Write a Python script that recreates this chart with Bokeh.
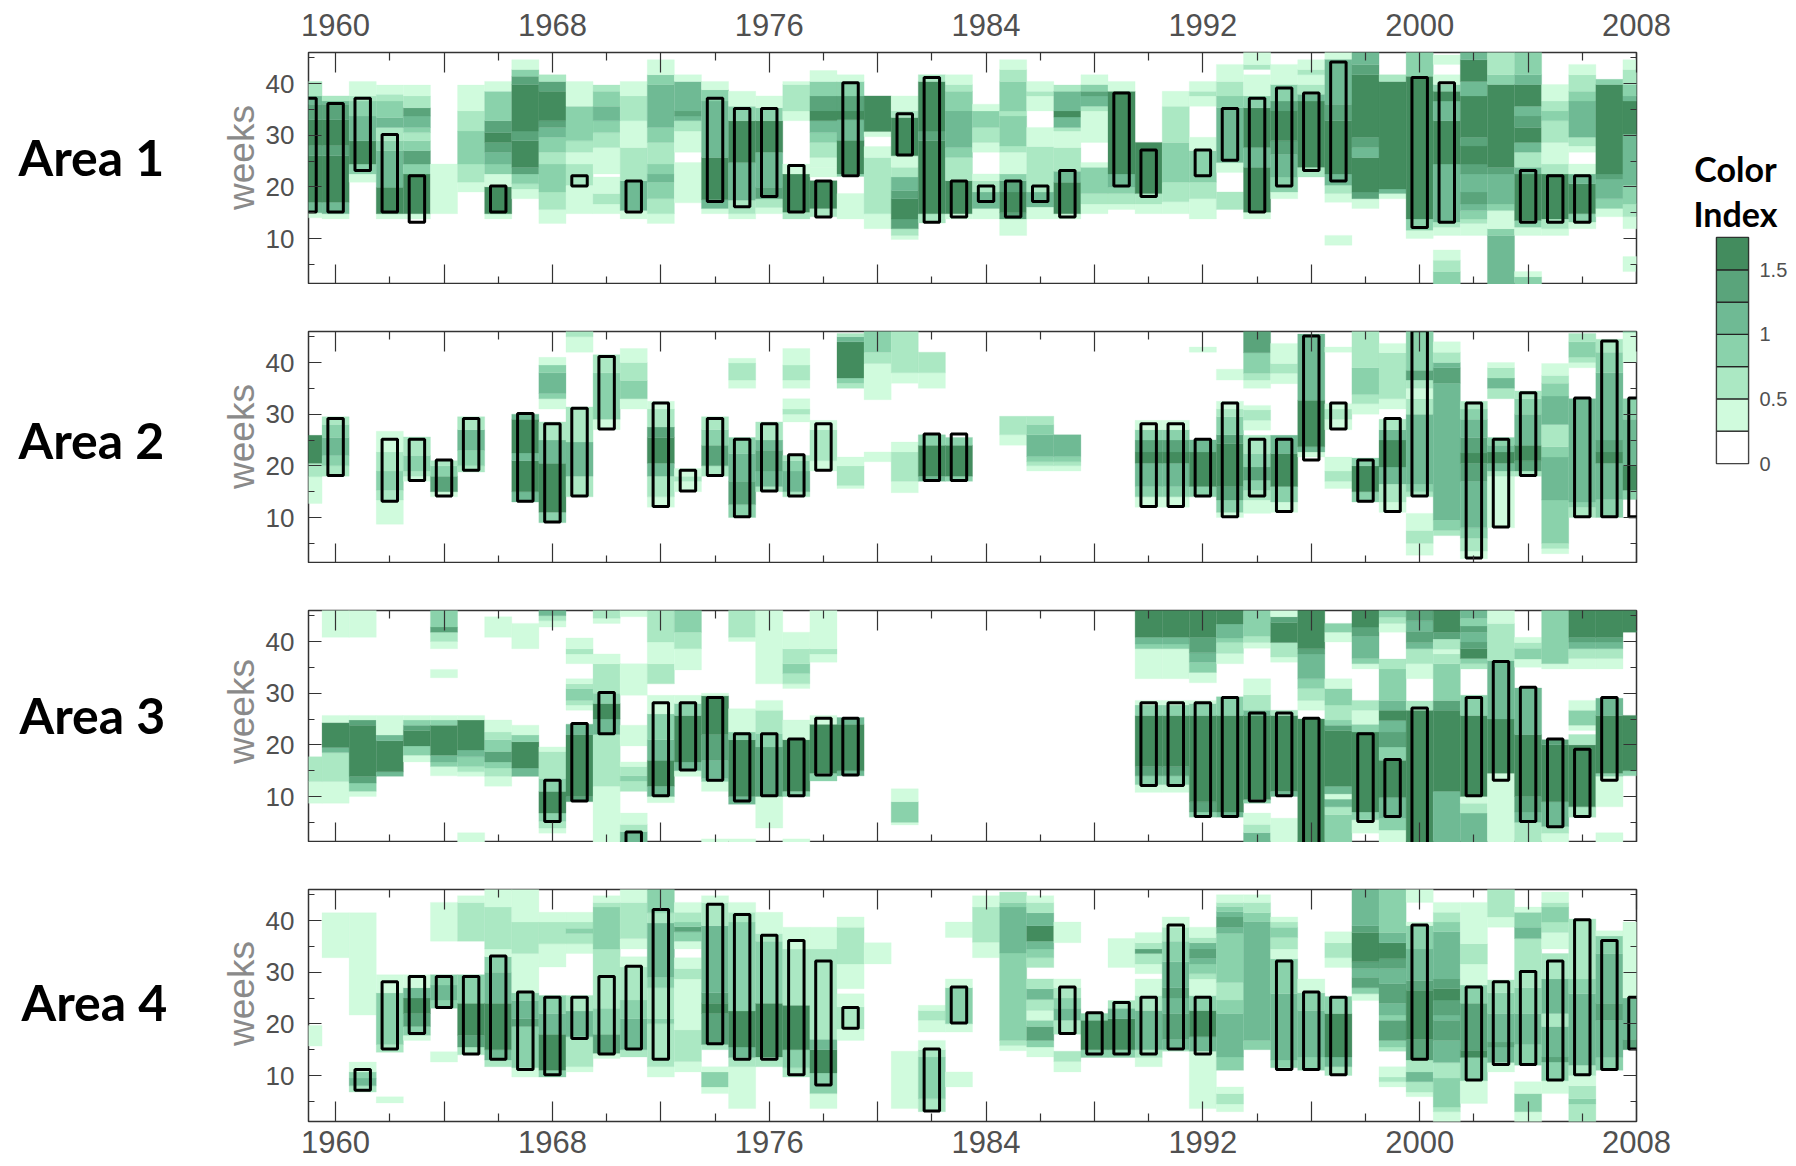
from math import pi
from bokeh.core.properties import value
from bokeh.embed import file_html
from bokeh.resources import INLINE
from bokeh.plotting import figure
from bokeh.layouts import row, column
from bokeh.models import ColumnDataSource, FixedTicker, LinearAxis

years = list(range(1959, 2009))
level_colors = ["#FFFFFF", "#D0FBDD", "#ABE8C3", "#8AD2AB", "#6FBA94", "#5AA47B", "#438C5E"]
legend_levels = [0, 0.25, 0.5, 0.75, 1.0, 1.25, 1.5]
legend_ticks = [0, 0.5, 1, 1.5]
area_names = ["Area 1", "Area 2", "Area 3", "Area 4"]
legend_title = ["Color", "Index"]

# Each string: "week:level" runs read upward through the weeks of one year, 0 = blank
area1_runs = [
 "14:1 15:4 17:6 26:5 28:6 33:5 36:4 37.6:2 40.4:0",
 "13.8:1 14.8:4 17:6 26:5 28:6 33:5 36:4 36.6:2 37.6:0",
 "20.9:1 22.5:3 24.4:6 28.9:4 33.7:3 36.6:2 37.6:1 40.4:0",
 "13.8:1 14.8:6 19.9:4 27:3 28.9:2 31.5:4 33.4:3 36.6:2 37.9:1 39.7:0",
 "13.8:1 14.8:6 22.5:3 24.4:5 27:3 28.9:2 30.5:3 31.5:4 33.7:5 35.3:2 37.6:1 39.7:0",
 "14.8:1 24.4:0",
 "19:1 20.9:2 24.4:3 30.8:2 34.7:1 39.7:0",
 "13.8:1 14.8:6 20:1 22.5:3 24.4:4 26.7:5 28.6:6 30.5:5 32.8:3 38.5:1 40.4:0",
 "17.7:1 19.6:2 20.6:3 22.5:5 23.8:6 28.9:5 30.8:6 39.8:5 41.4:3 42.7:1 44.6:0",
 "12.9:1 15.6:2 19:3 24.4:2 26.7:3 29.6:4 31.5:5 32.8:6 38.5:5 40.4:2 41.7:0",
 "14.8:1 20.3:2 24.4:1 26.7:2 28.9:3 35.6:1 40.4:0",
 "14.8:1 16.7:2 18.7:1 21.9:0 22.5:1 27.6:2 30.5:3 32.8:4 35.6:3 38.5:2 39.7:0",
 "13.8:1 15.4:4 21.2:2 27.6:1 32.8:2 37.6:1 40.4:0",
 "12.9:1 14.8:2 17.7:3 20.9:4 22.5:3 24.4:2 28.6:3 31.5:4 39.8:3 41.7:1 44.6:0",
 "16.9:1 24.7:0 26.7:1 30.8:2 32.8:4 33.7:5 34.7:4 40.4:1 41.7:0",
 "14.8:1 15.8:4 17.5:6 25.7:4 36.6:3 38.8:1 40.4:0",
 "13.8:1 14.8:2 17.4:4 24.7:6 32.8:3 35.6:1 38.5:0",
 "14.8:1 16:2 17.7:5 19.9:4 26.7:6 32.8:3 35.3:1 37.6:0",
 "13.8:2 15.1:6 22.5:1 24.4:0 32.8:1 34.7:2 39.8:1 40.4:0",
 "14.2:2 15.8:6 21.2:0 21.9:1 23.8:1 25.7:2 28.6:3 30.5:4 32.8:6 34.7:5 37.6:3 40.4:1 42.5:0",
 "13.8:1 18.7:0 22:3 22.5:6 29:4 33:6 34.7:5 37.6:3 40.4:1 41.7:0",
 "11.9:1 14.8:2 25.7:1 27.8:0 29.7:1 30.7:6 37.6:0",
 "9.8:1 10.6:2 11.9:5 13.8:6 17.7:5 19.3:4 21.9:2 23.8:1 26:6 33.4:2 34.7:1 37.6:0",
 "13:2 14.8:6 28.9:5 30.8:6 40.4:2 41.7:0",
 "13.8:1 14.8:6 21.2:2 25.7:3 27.6:4 34.7:3 38.5:2 39.8:1 41.7:0",
 "13.8:1 15.8:4 19:2 21.2:1 22.5:0 26.7:1 28.6:2 31.5:3 34.7:1 36:0",
 "10.6:1 13.8:5 15:6 19:5 21.2:3 22.5:1 26.7:2 27.9:3 33.7:2 34.7:3 40.4:2 42.7:1 44.6:0",
 "13.8:1 16.1:4 19:2 27.8:1 31.5:0 34.7:1 37.6:2 38.5:1 40.4:0",
 "13.8:1 14.8:6 20.9:4 23:2 27.6:1 30.8:2 31.5:4 33.5:6 34.7:4 38.5:2 39.7:0",
 "14.8:1 16.7:2 18.7:3 23.8:1 24.7:0 28.6:1 34.7:2 35.6:4 37.6:5 38.5:3 39.8:1 41.7:0",
 "15.6:1 16.7:2 18.7:3 19.9:4 22.5:6 38.5:1 40.4:0",
 "14.8:1 16.7:2 18.7:6 28.6:0",
 "14.8:1 17.1:2 20.9:3 28.6:2 35.6:1 38.5:0",
 "13.8:1 17.7:2 20.9:3 27:1 29.6:0 35.6:1 37.6:2 38.5:1 40.4:0",
 "15.6:2 19:0 22.8:1 24.7:4 35.3:3 37.6:2 40.4:1 43.7:0",
 "13.8:1 15.1:6 23.8:4 27.6:6 35.3:3 37.6:1 41.7:0 42.7:2 43.7:1",
 "17.7:1 19:3 21.9:4 26.3:5 28.9:6 34.7:5 36.6:3 39.8:1 43.7:0",
 "21.9:2 23.8:6 36.6:4 37.9:2 39.8:1 41.7:2 42.7:1 44.6:0",
 "8.7:1 10.6:0 17:1 18.7:2 20.3:4 22.5:6 32.8:5 36:4 44.7:1",
 "15.8:1 17.7:5 19:6 25.7:4 27.6:5 29.6:6 41.7:5 43.7:4",
 "17.7:1 18.7:4 19.6:6 40.4:2 41.7:0",
 "10:1 11.6:3 13.8:6 41.4:3",
 "1:3 3.6:2 5.8:1 7.8:0 10.6:1 12.2:2 13.2:4 24.4:6 32.8:4 36.6:6 38.5:3 39.8:1 41.7:0 43.7:1 45.5:0",
 "10.6:1 12.9:2 13.8:3 15.4:4 16.7:5 19:4 22.5:5 24.4:6 27.9:5 29.6:6 37.6:4 40.4:6 44.6:4",
 "1:4 10.6:3 11.9:1 15.4:3 16.7:4 22.5:5 23.8:6 39.8:3 41.7:2",
 "1:3 2.6:1 3.6:0 10.6:1 12.2:3 13.5:6 22.5:4 23.8:2 26.7:4 28.6:6 31.5:5 33.7:4 35.6:6 39.8:4 41.7:3",
 "10.6:1 11.9:2 13.8:6 22.5:2 24.4:1 28.6:2 32.8:3 34.7:2 36.6:1 39.8:0",
 "11.9:1 13.2:3 14.8:6 20.6:4 22.5:1 24.4:0 26.7:1 27.9:2 29.6:4 36.6:3 38.5:2 41.7:1 43.7:0",
 "14.2:1 15.8:3 17.7:4 21.5:5 22.5:6 39.8:3 40.8:0",
 "3.6:1 6.5:0 11.9:1 14.2:2 16.7:3 20.3:4 30.2:6 36.6:4 37.6:3 39.8:2 42.7:1 44.6:0",
]
area2_runs = [
 "12.7:1 17.9:2 20.5:6 25.9:0",
 "18:2 20:3 22:4 25.5:3 28:2 29.5:0",
 "",
 "8.7:1 13.4:2 15.3:3 19:2 22.7:1 26.7:0",
 "17:1 18:2 19:3 22:2 25.6:0",
 "14:1 15:5 18:3 20:2 21:0",
 "18.8:2 20:3 23:4 27:2 29.5:0",
 "",
 "13:4 15:6 21:4 22.5:6 29:4 30:0",
 "9:3 11:6 20.5:4 25:2 28.5:0 31:1 33:3 34:4 38:3 39.5:1 41:0",
 "14:2 18:4 24.6:2 31.4:0 42:1 45:2",
 "27:1 29:3 38:2 41.5:0",
 "31:1 33:3 36.5:2 40:1 42.7:0",
 "12:1 14:2 18:4 20.5:6 25.5:5 27.5:2 31:1 32.5:0",
 "15:1 17:2 18:1 19.5:0",
 "18:2 20:5 24:3 27:2 29.5:0",
 "10:3 12.5:5 17:4 22.4:3 25.5:0 35:1 36.6:2 39.9:1 40.8:0",
 "15:2 16:4 19:5 23:4 25:2 28.5:0",
 "14:2 15:4 19:3 21:2 22:0 28.5:1 30:2 31:1 33:0 35:1 36.6:2 39.5:1 42.7:0",
 "19:1 21:2 27:1 28.8:0",
 "15.6:1 16.2:2 20:1 21.7:0 35:2 36:3 37:6 44:4 45:2 45.6:0",
 "20.8:1 22.7:0 32.8:1 39.8:2 42:3",
 "14.8:1 17:2 22.7:1 24.6:0 36:1 38:2",
 "17:4 18:6 24:3 26:0 35:1 38:2 42:0",
 "17:3 18:6 24:3 25.5:0",
 "",
 "24:1 26:2 29.6:0",
 "19:1 20:2 20.8:3 21.8:4 26:3 28:2 29.6:0",
 "19:1 20:2 20.8:3 21.8:4 26:0",
 "",
 "",
 "12:1 14:3 16:4 20.5:6 22.7:5 25:3 27:1 28.8:0",
 "12:1 14:3 16:4 20.5:6 22.7:5 25:3 27:1 28.8:0",
 "14:3 16:6 22.7:4 25:0 42:1 43:0",
 "10:1 11:3 13.4:5 16:6 24.3:5 26:3 29.5:2 31:1 32.5:0 36.6:1 38.7:0",
 "10.8:1 13.4:2 15.3:3 17.2:5 19.8:3 22.4:2 25.9:0 26.9:1 28.8:2 30.8:1 31.7:0 35:1 36.6:2 37.9:3 41.9:5",
 "11:1 13:3 16:6 22.4:4 25.9:0 35.9:1 37.9:2 39.8:1 43.7:0",
 "21.7:1 22.7:4 23.7:6 32.7:4 45.5:0",
 "15.6:1 17:2 19:1 21.7:0 27:1 29:2 31:1 32:0 42:1 43:0",
 "13:3 15:6 20:3 21.5:0 30:1 32:2 33.8:3 39:2",
 "11:1 13:2 16.5:4 19.8:6 25:4 27:2 29:0 31:1 33:2 41.9:1 43.7:0",
 "2.7:1 5:2 7.5:1 10.8:0 14:2 15:3 16.5:4 30:2 33:1 35:2 36.6:5 38.5:3",
 "6.5:2 7.5:3 9.5:4 36:5 39:4 40:2 42:1 44:0",
 "2:1 3.5:2 6:3 8:4 17:5 20.5:6 22.5:5 25.5:4 29:3 31:2 32.5:0",
 "8:1 18:2 19:4 20.5:6 22.7:4 24:3 25.5:0 33:2 35:4 37:2 39:1 40:0",
 "18:2 19:5 21:6 24:4 30:3 33:2 34.5:0",
 "3:1 4:2 5:3 13.4:4 21.7:3 23.7:2 28:4 33.5:3 36:2 37.5:1 39.8:0",
 "10:2 12:3 13:4 33:0 39:1 40:2 41:3 44:2 45.6:0",
 "10:3 13.5:4 20.5:6 22.7:5 25:4 38:3 42:2 44.5:0",
 "13.5:3 15.3:6 20:4 29:3 33:0 40:1 45.8:3",
]
area3_runs = [
 "8.7:1 12.9:2 17.7:0",
 "8.7:1 12.9:2 18.5:4 19.5:6 24.3:1 25.7:0 40.8:1",
 "10:1 11:3 12.6:5 13.9:6 23.8:5 24.8:1 25.7:0 40.8:1",
 "13.9:4 14.8:6 20.8:4 21.9:1 25.7:0",
 "16.7:1 18:3 19.8:6 22.8:5 23.8:3 24.8:1 25.7:0",
 "14:1 15.8:3 16.7:4 18:6 23.8:3 24.8:1 25.7:0 33:1 34.6:0 38.6:1 40:2 41.8:5 42.8:3",
 "1:1 3:0 13.9:1 14.8:2 15.8:3 17.7:4 19:6 24.8:1 25.7:0",
 "12:1 13.9:2 15.5:3 16.7:5 18.7:3 21:2 22.5:1 24.8:0 40.8:1 44.8:0",
 "13.9:4 15.5:6 20.6:3 21.9:1 23.8:0 38.6:1 43.5:0",
 "2.9:1 3.9:2 5.2:3 6.8:6 11:3 13.5:2 18.7:1 19.6:0 42.8:1 44:2 45:4",
 "9:5 10:6 22:4 24:0 26.7:1 27.7:2 28.6:3 30.9:2 31.8:1 32.8:0 35.7:1 37.6:2 38.6:1 40.7:0",
 "1:1 12:2 22:4 25:6 28:3 30:2 35.7:1 37.6:0 43.5:1 44.5:2",
 "1:4 3.2:2 4.6:1 6.8:0 11:2 13:3 14:2 15.8:1 16.7:0 19.8:1 23.8:0 29.6:1 35.7:0 44.8:1",
 "8.8:1 10:4 12:6 17:4 21:3 26:1 29.6:0 31.8:2 35.7:1 39.9:2",
 "13.9:1 15:4 16.7:6 25.7:3 28:1 29.6:0 34.5:1 38.6:2 41.8:3",
 "1:1 1.8:0 11:1 12.9:3 13.5:4 17:5 22:6 29.5:1 30:0",
 "1:1 1.8:0 8.5:4 10:6 21:3 22.5:1 27:0 40:1 40.8:2",
 "3.9:1 10:5 19.6:3 22.2:2 26.7:1 28.6:0 31.8:1",
 "1:1 1.8:0 10:3 11:6 21:1 24.8:0 30.9:1 31.8:2 33.8:3 35.7:2 38.6:1 41.8:0",
 "13:3 14.5:6 24:1 25.7:0 36:1 37.6:2 38.6:1",
 "14:4 15:6 24:4 25.3:0",
 "",
 "4.5:1 5:3 9:1 11.5:0",
 "", "", "", "", "", "", "", "",
 "10.8:1 12.3:3 14:5 15.8:6 25.7:3 27.7:1 28.6:0 32.8:1 38.6:3 39.5:4 40.8:6",
 "10.8:1 12.3:3 14:5 15.8:6 25.7:3 27.7:1 28.6:0 32.8:1 38.6:3 39.5:4 40.8:6",
 "6:3 7:5 9:6 25.7:3 28:1 28.6:0 32:1 34:3 36:4 37.8:5 40.8:6",
 "6:4 7:6 25.7:3 29.3:0 35.7:1 37.7:2 39.8:3 40.7:4 43.4:6",
 "1:4 3:2 4.6:1 6.8:0 8.7:3 9.4:6 25.7:4 26.7:2 29.7:1 32.8:0 38.7:1 39.8:2 41:3",
 "1:1 5.8:0 10:4 11:6 25.7:2 26.7:0 36:1 37:2 39.8:6 43.7:5 44.8:1",
 "1:6 25:0 26.7:1 28.6:2 30.9:3 32.8:4 37.6:5 38.6:6",
 "1:3 6.5:2 8:4 9.5:1 10.5:4 12:6 22.8:5 23.8:3 24.8:2 27.7:3 30.9:1 32.8:0 39.9:1 41.8:3 43.5:0",
 "2.9:1 5.5:3 7:6 22.5:3 24:1 26.7:2 28.6:0 34.7:1 35.7:3 36.7:4 41:5 42.8:6",
 "1:1 3.5:3 5.8:4 9.8:6 17:3 19.6:5 22.5:4 24.7:6 26.7:4 28.6:3 34.7:2 36.6:0 41.8:1 43.5:2 44.7:3",
 "1:6 26.7:2 28.5:0 32.8:1 35.7:2 38.6:4 39.8:5 42:4 44:5",
 "1:4 11:6 26.7:5 28.6:3 35.7:2 37.6:1 38.5:2 40.5:5 41.8:6",
 "1:4 6.8:2 8.7:1 10:6 25.7:3 29.6:0 34.7:2 35.7:3 36.7:6 38.6:5 39.9:4 41.8:5 43:3 44.5:4",
 "1:1 14.5:6 25:4 36.3:2 43.5:1",
 "1:2 5:4 7:5 10:6 22:4 31:0 35:1 36.6:3 38.7:2 39.8:1 40.8:0",
 "1:1 2.9:2 4.2:4 9:6 20:5 21:0 34.7:1 35.7:3",
 "6:2 8:6 20:2 22:0 22.8:1 23.8:3 26.7:1 28.6:0 34.7:1 36.7:2 38.6:4 39.9:5 40.8:6",
 "1:1 3:0 8:1 13.9:3 14.5:6 25.7:4 29:0 34.7:1 36.7:2 38.6:4 39.9:5 40.8:6",
 "14:3 15:6 25.7:0 41.8:6",
]
area4_runs = [
 "15.7:1 19.7:0",
 "32.8:1 41.5:0",
 "6.8:2 8:4 9.5:3 10.7:1 12.6:0 21.7:1 41.5:0",
 "4.7:1 5.9:0 14.5:2 16:3 26:1 29.5:0",
 "16.8:1 17.8:3 19.5:5 22:6 25:4 27:1 29.5:0",
 "12.6:1 14.6:0 23:3 24.6:4 27.5:3 29.5:0 36:1 43.5:0",
 "14:2 15.5:5 17.8:6 24:3 29.5:0 36:2 43.5:1 44.8:0",
 "11.7:2 13:4 15:6 24:4 30:3 33:1 34.5:2 42.6:1",
 "9.7:1 11.5:3 19.5:5 21:4 24.5:3 26:1 33.6:2 39.7:1",
 "9.7:3 11:6 18:4 22:3 25.5:0 31:1 35.5:2 39.7:1 41.6:0",
 "10.7:1 11.7:2 17.5:4 22.5:2 25.5:0 33.6:1 35.5:2 37.5:3 38.5:2 39.7:1 41.6:0",
 "13.3:1 14.3:5 18:3 23:2 34.5:3 42.6:2 43.5:1 44.8:0",
 "13.6:2 15:4 21:3 24.6:2 31:1 33:0 34.5:1 36.5:2 43.5:1",
 "9.7:1 11.7:2 20:3 21:2 27:3 29:4 39.5:2 41.5:3",
 "10.7:1 12.7:2 18.8:1 28.7:2 30.7:1 32.8:0 34.5:1 36:3 37.8:5 38.8:3 39.7:2 41.6:1 43.5:0",
 "6.5:1 7.8:3 10.7:1 11.7:0 15:2 16:5 22:6 24:5 26:4 39:2 43.5:1 44.8:0",
 "3.6:1 11.7:2 13.5:4 15.5:6 22.5:3 39.7:2 41.6:1 43.5:0",
 "11.7:2 13.6:6 24:3 36:2 37.5:1 41.6:0",
 "9.7:2 11.5:3 15:6 23.6:2 34.5:1 38.7:0",
 "3.6:1 6.5:3 10.5:6 15:4 17:2 34.5:1 38.7:0",
 "16.8:1 19:2 23.3:1 25.8:0 26.8:1 31.6:2 38.7:1 40.7:0",
 "31.6:1 35.7:0",
 "3.6:1 14.7:0",
 "3:2 5.5:3 13.6:2 15:1 16.8:0 18.4:1 20.7:2 22.6:1 23.6:0",
 "7.8:1 10.7:0 18.4:1 20:3 27:1 28.7:0 36.7:1 39.7:0",
 "32.8:1 35.8:2 42.6:1 44.8:0",
 "14.8:1 15.8:2 16.8:3 33.7:4 42.6:3 43.5:2 45.5:0",
 "13.6:1 15.5:3 16.8:5 19.5:3 20.7:1 22.6:2 24.7:4 26.8:2 28.7:0 30.9:2 32.8:3 34.5:4 36:6 39:4 41.5:2 43.5:1 44.8:0",
 "10.7:1 12.7:2 14.7:0 18:2 20.7:4 23:3 25:2 27:1 28.7:0 35.7:1 39.7:0",
 "13.5:3 15:6 20.7:3 22:0",
 "13.5:3 15:6 21:4 23:2 24.5:0 30.9:1 36.5:0",
 "11.7:1 13.5:2 15:4 22.6:2 25.5:1 28.7:0 29.7:1 31.6:2 33.6:5 34.5:2 35.7:1 37.7:0",
 "14.7:2 15:4 17:5 22:4 25:5 27:4 32:3 36:2 38.7:1 40.7:0",
 "3.6:1 14.7:4 17.5:6 22.6:3 25.5:1 28.7:2 29.7:3 31.6:4 32.7:5 34.5:4 35.7:2 36.7:1 38.7:0",
 "3:1 4.5:2 6.5:1 7.8:0 11:3 13.6:4 22:3 24.6:2 28:3 37.5:4 38.7:5 40.7:4 41.7:3 42.7:2 43.5:1 45:0",
 "15:3 16.8:4 39.8:3 41.5:2 43.5:1 45:0",
 "11.5:3 13:4 25.8:3 32.6:1 34.5:2 36.7:3 38.7:2 39.7:1 40.7:0",
 "11:3 13.6:4 22.6:3 26:1 28.7:0",
 "10:2 11.7:4 13.6:6 22:3 25.3:0 30.9:1 32.8:2 35.7:1 37.8:0",
 "24.5:1 25.8:3 27:5 29:4 30.7:5 32:6 37.7:5 39:4",
 "7.8:1 8.8:2 9.7:1 11.7:0 14.7:2 15.5:3 16.8:5 20.7:3 21.7:4 24:5 27.8:4 30.7:5 32.6:6 35.7:4 37.7:3",
 "5.9:1 6.8:2 8.8:4 10.7:2 13:5 17:6 26.5:5 28.4:4 34.5:3 39:1 39.7:0 43.5:1",
 "1:1 3:2 3.9:3 9.5:2 12.5:4 16.8:5 20.7:4 21.7:5 24.6:6 26.8:5 28.7:4 37.8:3 39.7:2 41.6:1 43.5:0",
 "4.6:1 9:3 13.5:6 14.9:5 24:3 27.5:1 31.6:2 35.5:1 43.5:0",
 "10.7:1 12.5:4 15.5:5 16.5:4 22:3 26:2 28.5:0 38.7:1 40.7:2",
 "1:1 3:3 6.5:1 8.8:0 12:3 16:4 22:3 27:2 36.5:4 38.7:3 41.6:1 42.6:0",
 "6.5:1 9:3 12.6:5 13.6:4 19.5:2 22:4 28.7:2 33.6:0 34.5:1 37.7:2 39.7:3 42.6:2 43.5:1 45.5:0",
 "1:2 4.5:3 5.5:2 8:1 10:2 12:4 25.8:3 28.7:2 40.3:0",
 "11:3 13.5:4 20.7:5 24:4 33.6:3 37:1 38:0",
 "15:5 17:4 25:1 39.7:0",
]

area1_box_years = [1959,1960,1961,1962,1963,1966,1969,1971,1974,1975,1976,1977,1978,1979,1981,1982,1983,1984,1985,1986,1987,1989,1990,1992,1993,1994,1995,1996,1997,2000,2001,2004,2005,2006]
area1_box_lo = [15,15,23,15,13,15,20,15,17,16,18,15,14,22,26,13,14,17,14,17,14,20,18,22,25,15,20,23,21,12,13,13,13,13]
area1_box_hi = [37,36,37,30,22,20,22,21,37,35,35,24,21,40,34,41,21,20,21,20,23,38,27,27,35,37,39,38,44,41,40,23,22,22]
area2_box_years = [1960,1962,1963,1964,1965,1967,1968,1969,1970,1972,1973,1974,1975,1976,1977,1978,1982,1983,1990,1991,1992,1993,1994,1995,1996,1997,1998,1999,2000,2002,2003,2004,2006,2007,2008]
area2_box_lo = [18,13,17,14,19,13,9,14,27,12,15,18,10,15,14,19,17,17,12,12,14,10,14,11,21,27,13,11,14,2,8,18,10,10,10]
area2_box_hi = [29,25,25,21,29,30,28,31,41,32,19,29,25,28,22,28,26,26,28,28,25,32,25,25,45,32,21,29,46,32,25,34,33,44,33]
area3_box_years = [1968,1969,1970,1971,1972,1973,1974,1975,1976,1977,1978,1979,1990,1991,1992,1993,1994,1995,1996,1998,1999,2000,2002,2003,2004,2005,2006,2007]
area3_box_lo = [5,9,22,0,10,15,13,9,10,10,14,14,12,12,6,6,9,10,0,5,6,0,10,13,5,4,6,13]
area3_box_hi = [13,24,30,3,28,28,29,22,22,21,25,25,28,28,28,29,26,26,25,22,17,27,29,36,31,21,19,29]
area4_box_years = [1961,1962,1963,1964,1965,1966,1967,1968,1969,1970,1971,1972,1974,1975,1976,1977,1978,1979,1982,1983,1987,1988,1989,1990,1991,1992,1995,1996,1997,2000,2002,2003,2004,2005,2006,2007,2008]
area4_box_lo = [7,15,18,23,14,13,11,10,17,14,15,13,16,13,13,10,8,19,3,20,18,14,14,14,15,14,11,11,10,13,9,12,12,9,10,11,15]
area4_box_hi = [11,28,29,29,29,33,26,25,25,29,31,42,43,41,37,36,32,23,15,27,27,22,24,25,39,25,32,26,25,39,27,28,30,32,40,36,25]

x_major = list(range(1960, 2009, 4))
x_minor = list(range(1962, 2009, 4))
x_labels = list(range(1960, 2009, 8))
y_major = [10, 20, 30, 40]
y_minor = [5, 15, 25, 35, 45]

SIDE_W, LEFT, FRAME_W, RIGHT, FRAME_H = 262, 46, 1328, 40, 232
TICK_COLOR = "#505050"


def cells(runs):
    src = dict(left=[], right=[], bottom=[], top=[], color=[])
    for year, text in zip(years, runs):
        pairs = [t.split(":") for t in text.split()]
        for i, (week, lvl) in enumerate(pairs):
            if int(lvl) == 0:
                continue
            hi = float(pairs[i + 1][0]) if i + 1 < len(pairs) else 46.2
            src["left"].append(year - 0.5)
            src["right"].append(year + 0.5)
            src["bottom"].append(float(week))
            src["top"].append(hi)
            src["color"].append(level_colors[int(lvl)])
    return ColumnDataSource(src)


def x_axis(show, standoff):
    ax = LinearAxis(ticker=FixedTicker(ticks=x_major, minor_ticks=x_minor))
    ax.major_tick_in, ax.major_tick_out = 20, 0
    ax.minor_tick_in, ax.minor_tick_out = 8, 0
    ax.major_tick_line_color = ax.minor_tick_line_color = "#333333"
    ax.major_tick_line_width = ax.minor_tick_line_width = 1.2
    ax.axis_line_color = None
    ax.major_label_overrides = {v: (str(v) if (show and v in x_labels) else "") for v in x_major}
    ax.major_label_text_font = "Liberation Sans"
    ax.major_label_text_font_size = "31px"
    ax.major_label_text_color = TICK_COLOR
    ax.major_label_standoff = standoff
    return ax


def y_axis(show):
    ax = LinearAxis(ticker=FixedTicker(ticks=y_major, minor_ticks=y_minor))
    ax.major_tick_in, ax.major_tick_out = 13, 0
    ax.minor_tick_in, ax.minor_tick_out = 6, 0
    ax.major_tick_line_color = ax.minor_tick_line_color = "#333333"
    ax.major_tick_line_width = ax.minor_tick_line_width = 1.2
    ax.axis_line_color = None
    ax.major_label_overrides = {v: (str(v) if show else "") for v in y_major}
    ax.major_label_text_font = "Liberation Sans"
    ax.major_label_text_font_size = "26px"
    ax.major_label_text_color = TICK_COLOR
    ax.major_label_standoff = 14
    return ax


def panel(runs, by, blo, bhi, top_border, bottom_border, top_lab, bottom_lab):
    p = figure(width=LEFT + FRAME_W + RIGHT, height=top_border + FRAME_H + bottom_border,
               x_range=(1959, 2008), y_range=(1.1, 46), output_backend="svg",
               toolbar_location=None, x_axis_location=None, y_axis_location=None,
               min_border_left=LEFT, min_border_right=RIGHT,
               min_border_top=top_border, min_border_bottom=bottom_border)
    p.background_fill_color = "white"
    p.grid.visible = False
    p.outline_line_color = "#333333"
    p.outline_line_width = 1.5
    p.quad(left="left", right="right", bottom="bottom", top="top", source=cells(runs),
           fill_color="color", line_color="color", line_width=0.3)
    src = ColumnDataSource(dict(left=[y - 0.285 for y in by], right=[y + 0.285 for y in by],
                                bottom=[v + 0.15 for v in blo], top=[v + 0.15 for v in bhi]))
    p.quad(left="left", right="right", bottom="bottom", top="top", source=src,
           fill_color=None, line_color="black", line_width=3)
    p.add_layout(x_axis(top_lab, 17), "above")
    p.add_layout(x_axis(bottom_lab, 9), "below")
    p.add_layout(y_axis(True), "left")
    p.add_layout(y_axis(False), "right")
    return p


p1 = panel(area1_runs, area1_box_years, area1_box_lo, area1_box_hi, 52, 0, True, False)
p2 = panel(area2_runs, area2_box_years, area2_box_lo, area2_box_hi, 47, 0, False, False)
p3 = panel(area3_runs, area3_box_years, area3_box_lo, area3_box_hi, 47, 0, False, False)
p4 = panel(area4_runs, area4_box_years, area4_box_lo, area4_box_hi, 47, 44, False, True)

# Left strip: area names and the rotated "weeks" captions, placed in page pixels
side = figure(width=SIDE_W, height=1158, x_range=(0, SIDE_W), y_range=(1158, 0), output_backend="svg",
              toolbar_location=None, x_axis_location=None, y_axis_location=None,
              min_border_left=0, min_border_right=0, min_border_top=0, min_border_bottom=0)
side.frame_align = False
side.grid.visible = False
side.outline_line_color = None
side.text(x=[18, 18, 19, 21], y=[156, 439, 714, 1001], text=area_names,
          text_font=value("Lato"), text_font_style="bold", text_font_size="50px",
          text_color="black", text_align="left", text_baseline="alphabetic")
side.text(x=[241, 241, 241, 241], y=[157, 436, 711, 993], text=["weeks"] * 4, angle=pi / 2,
          text_font=value("Liberation Sans"), text_font_size="37px",
          text_color="#8A8A8A", text_align="center", text_baseline="alphabetic")

# Legend column: title strip over the colour key
head = figure(width=114, height=236, x_range=(0, 114), y_range=(236, 0), output_backend="svg",
              toolbar_location=None, x_axis_location=None, y_axis_location=None,
              min_border_left=0, min_border_right=0, min_border_top=0, min_border_bottom=0)
head.frame_align = False
head.grid.visible = False
head.outline_line_color = None
head.text(x=[59, 59], y=[168, 213], text=legend_title,
          text_font=value("Lato"), text_font_style="bold", text_font_size="34px",
          text_color="black", text_align="center", text_baseline="alphabetic")

leg = figure(width=114, height=252, x_range=(0, 1), y_range=(0, 1.75), output_backend="svg",
             toolbar_location=None, x_axis_location=None, y_axis_location=None,
             min_border_left=40, min_border_right=38, min_border_top=1, min_border_bottom=25)
leg.frame_align = False
leg.grid.visible = False
leg.outline_line_color = "#333333"
leg.outline_line_width = 1.5
leg.quad(left=0, right=1, bottom=legend_levels, top=[v + 0.25 for v in legend_levels],
         fill_color=level_colors, line_color="#222222", line_width=1.2)
ax = LinearAxis(ticker=FixedTicker(ticks=legend_ticks),
                major_label_overrides={0: "0", 0.5: "0.5", 1: "1", 1.5: "1.5"})
ax.major_tick_line_color = None
ax.minor_tick_line_color = None
ax.axis_line_color = None
ax.major_label_text_font = "Liberation Sans"
ax.major_label_text_font_size = "20px"
ax.major_label_text_color = TICK_COLOR
ax.major_label_standoff = 5
leg.add_layout(ax, "right")

page = row(side, column(p1, p2, p3, p4, spacing=0), column(head, leg, spacing=0), spacing=0)
open("out.html", "w").write(file_html(page, INLINE))
